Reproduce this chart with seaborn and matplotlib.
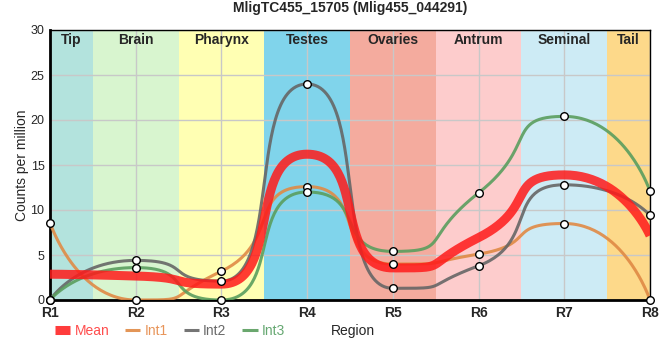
import numpy as np
import pandas as pd
import seaborn as sns
import matplotlib
matplotlib.use("Agg")
import matplotlib.pyplot as plt
from matplotlib.lines import Line2D

# data
regions = ["R1", "R2", "R3", "R4", "R5", "R6", "R7", "R8"]
int1 = [8.6, 0.0, 3.2, 12.6, 4.0, 5.1, 8.5, 0.0]
int2 = [0.0, 4.4, 2.1, 24.0, 1.3, 3.8, 12.8, 9.4]
int3 = [0.0, 3.6, 0.0, 12.0, 5.4, 11.9, 20.4, 12.1]
mean = list(np.mean([int1, int2, int3], axis=0))

tissues = ["Tip", "Brain", "Pharynx", "Testes", "Ovaries", "Antrum", "Seminal", "Tail"]
tissue_colors = ["#b3e3dd", "#d8f5cf", "#ffffb3", "#80d4eb",
                 "#f4ab9e", "#fdcccc", "#cdebf5", "#fdd98a"]

series = {"Mean": mean, "Int1": int1, "Int2": int2, "Int3": int3}
colors = {"Mean": "#ff1a1a", "Int1": "#e08a45", "Int2": "#666666", "Int3": "#5a9e5e"}
text_colors = {"Mean": "#ff4d4d", "Int1": "#e8955a", "Int2": "#6a6a6a", "Int3": "#66a872"}

K = 0.7  # how far the bezier handles reach (fraction of the point spacing)


def spline(y, n=60):
    # smooth bezier through the points, flat at peaks/valleys, only for drawing
    y = np.asarray(y, float)
    N = len(y)
    lc = [(0.0, y[0])] * N
    rc = [(0.0, y[0])] * N
    for i in range(N):
        if i == 0 or i == N - 1:
            lc[i] = rc[i] = (float(i), y[i])
            continue
        s0, s1 = y[i] - y[i - 1], y[i + 1] - y[i]
        m = 0.0 if s0 * s1 <= 0 else (y[i + 1] - y[i - 1]) / 2
        ly, ry = y[i] - K * m, y[i] + K * m
        lo, hi = sorted([y[i - 1], y[i]])
        if not lo <= ly <= hi:
            ly = y[i - 1]
            ry = 2 * y[i] - ly
        lo, hi = sorted([y[i], y[i + 1]])
        if not lo <= ry <= hi:
            ry = y[i + 1]
            ly = 2 * y[i] - ry
        lc[i] = (i - K, ly)
        rc[i] = (i + K, ry)
    xs, ys = [], []
    for i in range(N - 1):
        t = np.linspace(0, 1, n)[:, None]
        p0 = np.array([i, y[i]])
        p1 = np.array(rc[i])
        p2 = np.array(lc[i + 1])
        p3 = np.array([i + 1, y[i + 1]])
        b = (1 - t)**3 * p0 + 3 * (1 - t)**2 * t * p1 + 3 * (1 - t) * t**2 * p2 + t**3 * p3
        xs.append(b[:, 0])
        ys.append(b[:, 1])
    return np.concatenate(xs), np.concatenate(ys)


sns.set_style("white")
plt.rcParams["font.family"] = ["Liberation Sans", "DejaVu Sans"]

fig = plt.figure(figsize=(6.6, 3.6), dpi=100)
ax = fig.add_axes([50 / 660, 60 / 360, 600 / 660, 270 / 360])

# tissue bands
for i, (name, c) in enumerate(zip(tissues, tissue_colors)):
    ax.axvspan(i - 0.5, i + 0.5, color=c, lw=0, zorder=0)
    xpos = i + 0.25 if i == 0 else (i - 0.25 if i == 7 else i)
    ax.text(xpos, 28.9, name, ha="center", va="center", fontsize=10,
            fontweight="bold", zorder=5)

ax.set_xticks(range(len(regions)))
ax.set_xticklabels(regions, fontweight="bold", fontsize=10)
ax.set_yticks([0, 5, 10, 15, 20, 25, 30])
ax.tick_params(axis="y", labelsize=9, length=3, pad=1)
ax.tick_params(axis="x", length=0, pad=4)
ax.grid(True, color="#c8c8c8", lw=1, zorder=1)

for name, vals in series.items():
    xs, ys = spline(vals)
    df = pd.DataFrame({"x": xs, "y": ys})
    if name == "Mean":
        sns.lineplot(data=df, x="x", y="y", ax=ax, color=colors[name], lw=6.5,
                     alpha=0.85, zorder=4, sort=False, solid_capstyle="butt")
    else:
        sns.lineplot(data=df, x="x", y="y", ax=ax, color=colors[name], lw=2.2,
                     alpha=0.9, zorder=3, sort=False)

for name in ["Int1", "Int2", "Int3"]:
    pts = pd.DataFrame({"x": range(len(regions)), "y": series[name]})
    sns.scatterplot(data=pts, x="x", y="y", ax=ax, s=30, facecolor="white",
                    edgecolor="black", linewidth=1, zorder=6, clip_on=False)

ax.set_xlim(0, 7)
ax.set_ylim(0, 30)
for sp in ["top", "right"]:
    ax.spines[sp].set_linewidth(1)
    ax.spines[sp].set_color("black")
for sp in ["left", "bottom"]:
    ax.spines[sp].set_linewidth(2)
    ax.spines[sp].set_color("black")
ax.set_xlabel("")
ax.set_ylabel("Counts per million", fontsize=10, labelpad=1)
ax.set_title("MligTC455_15705 (Mlig455_044291)", fontsize=10, fontweight="bold", pad=13)

handles = [Line2D([0], [0], color=colors[n], lw=6.5 if n == "Mean" else 2.2,
                  alpha=0.85 if n == "Mean" else 0.9, solid_capstyle="butt") for n in series]
leg = fig.legend(handles, list(series), loc="center left", bbox_to_anchor=(55 / 660, 29 / 360),
                 ncol=4, frameon=False, fontsize=10, handlelength=1.1, handletextpad=0.3,
                 columnspacing=1.15, borderpad=0, borderaxespad=0)
for t, n in zip(leg.get_texts(), series):
    t.set_color(text_colors[n])
fig.text(331 / 660, 29 / 360, "Region", ha="left", va="center", fontsize=10)

fig.savefig("out.png", dpi=100)
